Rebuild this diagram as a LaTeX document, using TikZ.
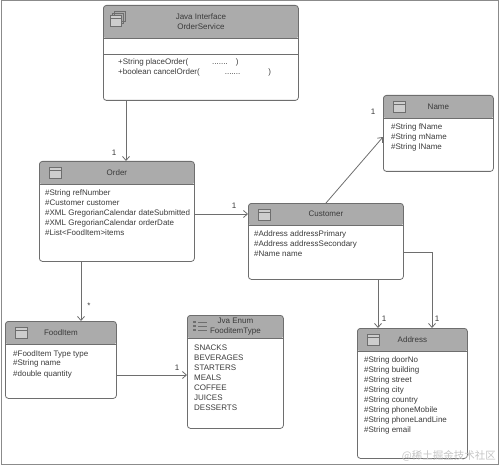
\documentclass[tikz,border=0pt]{standalone}
\usepackage{fontspec}
\setmainfont{Liberation Sans}
\newfontfamily\cjkfont{Noto Sans CJK SC}
\usepackage{xcolor}
\definecolor{HeaderGray}{HTML}{ABABAB}
\definecolor{LineGray}{HTML}{6E6E6E}
\definecolor{TextDark}{HTML}{3A3A3A}
\definecolor{MarkGray}{HTML}{C4C4C4}
\usepackage{tikz}
\usetikzlibrary{calc,positioning,arrows.meta}

\tikzset{
  classbox/.style={draw=LineGray, line width=0.8pt, rounded corners=3pt, anchor=north west, inner sep=0pt},
  titletext/.style={TextDark, font=\fontsize{8}{10}\selectfont, align=center, inner sep=0pt},
  membertext/.style={TextDark, font=\fontsize{8}{10}\selectfont, align=left, anchor=north west, inner sep=0pt},
  multtext/.style={TextDark, font=\fontsize{8}{10}\selectfont, inner sep=0pt},
  link/.style={LineGray, line width=0.8pt, -{Straight Barb[length=4pt,width=7pt]}},
  iconline/.style={LineGray, line width=0.7pt},
  windowicon/.pic={
    \draw[iconline, fill=HeaderGray!60] (10,6) rectangle (22.5,17.5);
    \draw[iconline] (10,9) -- (22.5,9);
  },
  stackicon/.pic={
    \draw[iconline] (11,6) rectangle (22,16);
    \draw[iconline] (9,8) rectangle (20,18);
    \draw[iconline, fill=HeaderGray!60] (7,10) rectangle (18,21);
    \draw[iconline] (7,13) -- (18,13);
  },
  listicon/.pic={
    \foreach \i in {7,11,15} {
      \draw[iconline, line width=1.4pt] (6,\i) -- (9,\i);
      \draw[iconline] (11,\i) -- (20,\i);
    }
  },
}

\begin{document}
\begin{tikzpicture}[x=1pt,y=-1pt]
  \useasboundingbox (0,0) rectangle (500,465);

  % Outer frame
  \draw[LineGray!80] (1,0.5) rectangle (498.5,464);

  % Class boxes with grey headers
  \foreach \name/\x/\y/\w/\h/\hh/\icon/\title in {
    service/103/5/195/95/33/stackicon/{Java Interface\\OrderService},
    order/39/161/155/100/23/windowicon/{Order},
    customer/248/203/155/76/22/windowicon/{Customer},
    person/383/95/110/76/23/windowicon/{Name},
    fooditem/5/321/111/77/23/windowicon/{FoodItem},
    foodtype/187/315/96/113/23/listicon/{Jva Enum\\FooditemType},
    address/357/328/110/130/23/windowicon/{Address}} {
    \node[classbox, minimum width=\w pt, minimum height=\h pt,
      path picture={\fill[HeaderGray] (path picture bounding box.north west) rectangle ([yshift=-\hh pt]path picture bounding box.north east);}]
      (\name) at (\x,\y) {};
    \draw[LineGray, line width=0.6pt] ([yshift=-\hh pt]\name.north west) -- ([yshift=-\hh pt]\name.north east);
    \node[titletext] (\name title) at ([yshift=-0.5*\hh pt]\name.north) {\title};
    \pic at (\name.north west) {\icon};
  }

  % Second rule of the interface box
  \draw[LineGray, line width=0.6pt] ([yshift=-49pt]service.north west) -- ([yshift=-49pt]service.north east);

  % Members
  \node[membertext] (servicebody) at (118,59) {+String placeOrder(\hspace{24pt}.......\hspace{8pt})\\+boolean cancelOrder(\hspace{25pt}.......\hspace{28pt})};
  \node[membertext] (orderbody) at (45,190) {\#String refNumber\\\#Customer customer\\\#XML GregorianCalendar dateSubmitted\\\#XML GregorianCalendar orderDate\\\#List<FoodItem>items};
  \node[membertext] (customerbody) at (254,231) {\#Address addressPrimary\\\#Address addressSecondary\\\#Name name};
  \node[membertext] (personbody) at (391,124) {\#String fName\\\#String mName\\\#String lName};
  \node[membertext] (fooditembody) at (13,350) {\#FoodItem Type type\\\#String name\\\#double quantity};
  \node[membertext] (foodtypebody) at (194,345) {SNACKS\\BEVERAGES\\STARTERS\\MEALS\\COFFEE\\JUICES\\DESSERTS};
  \node[membertext] (addressbody) at (364,356) {\#String doorNo\\\#String building\\\#String street\\\#String city\\\#String country\\\#String phoneMobile\\\#String phoneLandLine\\\#String email};

  % Connectors
  \coordinate (servicedrop) at (126,0);
  \coordinate (itemdrop) at (81,0);
  \coordinate (orderrow) at (0,214);
  \coordinate (itemrow) at (0,375);
  \coordinate (addressdrop) at (378,0);
  \coordinate (seconddrop) at (432,0);
  \coordinate (customerrow) at (0,252);
  \coordinate (customertop) at (326,0);
  \coordinate (personrow) at (0,137);
  \draw[link] (servicedrop |- service.south) -- (servicedrop |- order.north);
  \draw[link] (order.east |- orderrow) -- (customer.west |- orderrow);
  \draw[link] (customertop |- customer.north) -- (person.west |- personrow);
  \draw[link] (itemdrop |- order.south) -- (itemdrop |- fooditem.north);
  \draw[link] (fooditem.east |- itemrow) -- (foodtype.west |- itemrow);
  \draw[link] (addressdrop |- customer.south) -- (addressdrop |- address.north);
  \draw[link] (customer.east |- customerrow) -| (seconddrop |- address.north);

  % Multiplicities
  \node[multtext] (mult1) at (114,153) {1};
  \node[multtext] (mult2) at (234,206) {1};
  \node[multtext] (mult3) at (373,112) {1};
  \node[multtext] (mult4) at (89,306) {*};
  \node[multtext] (mult5) at (177,368) {1};
  \node[multtext] (mult6) at (384,319) {1};
  \node[multtext] (mult7) at (437,319) {1};

  % Watermark
  \node[MarkGray, font=\cjkfont\fontsize{10.5}{12}\selectfont, inner sep=0pt, anchor=east] (mark) at (496,456) {@稀土掘金技术社区};
\end{tikzpicture}
\end{document}
